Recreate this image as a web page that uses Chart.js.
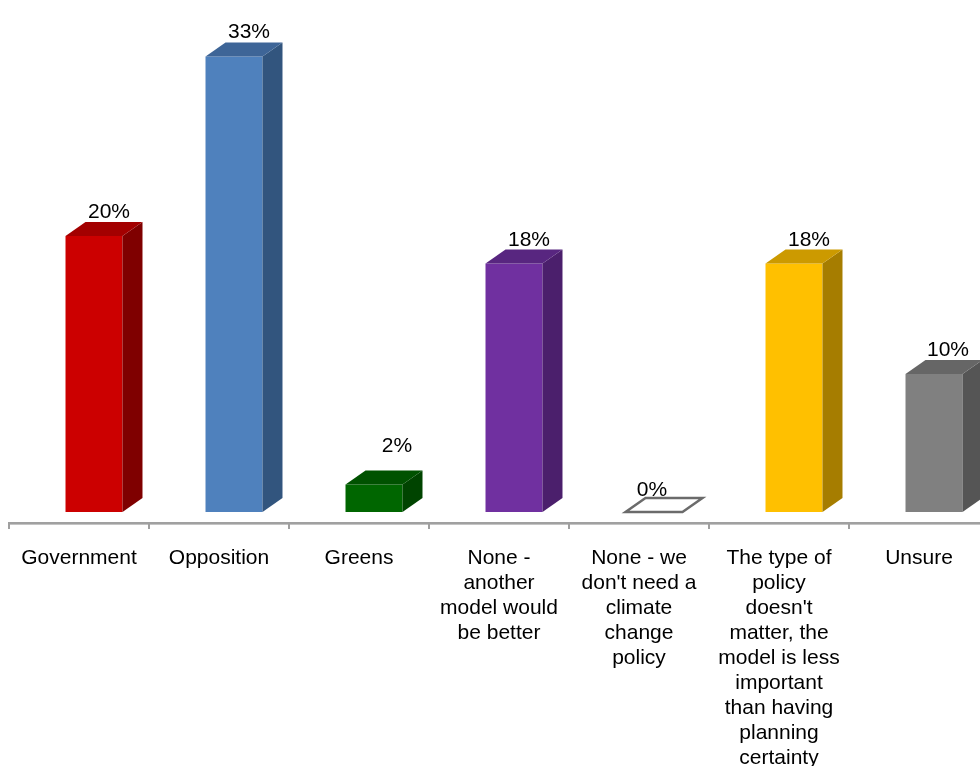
<!DOCTYPE html>
<html>
<head>
<meta charset="utf-8">
<script src="https://cdn.jsdelivr.net/npm/chart.js@4/dist/chart.umd.min.js"></script>
<style>
  html, body { margin: 0; padding: 0; background: #fff; }
  #wrap { width: 980px; height: 766px; overflow: hidden; position: relative; }
  #chart { display: block; }
</style>
</head>
<body>
<div id="wrap"><canvas id="chart" width="1010" height="766" style="width:1010px;height:766px"></canvas></div>
<script>
// 类别（多行标签）
const categories = [
    'Government',
    'Opposition',
    'Greens',
    ['None -', 'another', 'model would', 'be better'],
    ['None - we', "don't need a", 'climate', 'change', 'policy'],
    ['The type of', 'policy', "doesn't", 'matter, the', 'model is less', 'important', 'than having', 'planning', 'certainty'],
    'Unsure'
];
// 百分比数值
const values = [20, 33, 2, 18, 0, 18, 10];

// 颜色：正面 / 顶面 / 侧面
const frontColors = ['#cc0000', '#4f81bd', '#006600', '#7030a0', '#ffffff', '#ffc000', '#808080'];
const topColors   = ['#a30000', '#3e6597', '#005200', '#582680', '#ffffff', '#cc9a00', '#666666'];
const sideColors  = ['#7f0000', '#32557e', '#004400', '#4b1f6c', '#ffffff', '#a67d00', '#555555'];

// 数据标签相对柱正面中心/顶部的微调（Excel 的摆放不完全一致）
const labelDx = [15, 15, 23, 15, -2, 15, 14];
const labelDy = [18, 18, 32, 18, 16, 18, 18];

const FONT = 'Liberation Sans, Arial, sans-serif';
const DEPTH_X = 20, DEPTH_Y = -14;   // 立体深度
const FLOOR_X = -15, FLOOR_Y = 10;   // 地板前沿相对柱底的偏移

// 画地板前沿的坐标轴线和刻度
const floorAxis = {
    id: 'floorAxis',
    beforeDatasetsDraw(chart) {
        const ctx = chart.ctx;
        const xs = chart.scales.x, ys = chart.scales.y;
        const step = xs.width / categories.length;
        const y0 = ys.getPixelForValue(0) + FLOOR_Y;
        ctx.save();
        ctx.fillStyle = '#a0a0a0';
        ctx.fillRect(xs.left + FLOOR_X - 1, y0, xs.width + 2, 2);
        ctx.fillStyle = '#c4c4c4';
        ctx.fillRect(xs.left + FLOOR_X - 1, y0 + 2, xs.width + 2, 1);
        ctx.fillStyle = '#a0a0a0';
        for (let i = 0; i <= categories.length; i++) {
            const tx = Math.round(xs.left + FLOOR_X + i * step);
            ctx.fillRect(tx - 1, y0, 2, 7);
        }
        ctx.restore();
    }
};

// 画立体柱的顶面、侧面和数据标签
const bars3d = {
    id: 'bars3d',
    afterDatasetsDraw(chart) {
        const ctx = chart.ctx;
        const meta = chart.getDatasetMeta(0);
        ctx.save();
        meta.data.forEach((el, i) => {
            const p = el.getProps(['x', 'y', 'base', 'width'], true);
            const l = p.x - p.width / 2, r = p.x + p.width / 2;
            const top = p.y, base = p.base;

            if (values[i] === 0) {
                // 零值：只有一个空心的顶面
                ctx.beginPath();
                ctx.moveTo(l, base);
                ctx.lineTo(l + DEPTH_X, base + DEPTH_Y);
                ctx.lineTo(r + DEPTH_X, base + DEPTH_Y);
                ctx.lineTo(r, base);
                ctx.closePath();
                ctx.fillStyle = '#ffffff';
                ctx.fill();
                ctx.lineWidth = 2.5;
                ctx.strokeStyle = '#6b6b6b';
                ctx.stroke();
            } else {
                // 侧面
                ctx.beginPath();
                ctx.moveTo(r, top);
                ctx.lineTo(r + DEPTH_X, top + DEPTH_Y);
                ctx.lineTo(r + DEPTH_X, base + DEPTH_Y);
                ctx.lineTo(r, base);
                ctx.closePath();
                ctx.fillStyle = sideColors[i];
                ctx.fill();
                // 顶面
                ctx.beginPath();
                ctx.moveTo(l, top);
                ctx.lineTo(l + DEPTH_X, top + DEPTH_Y);
                ctx.lineTo(r + DEPTH_X, top + DEPTH_Y);
                ctx.lineTo(r, top);
                ctx.closePath();
                ctx.fillStyle = topColors[i];
                ctx.fill();
            }

            // 数据标签
            ctx.fillStyle = '#000';
            ctx.font = '21px ' + FONT;
            ctx.textAlign = 'center';
            ctx.textBaseline = 'alphabetic';
            ctx.fillText(values[i] + '%', p.x + labelDx[i], top - labelDy[i]);
        });
        ctx.restore();
    }
};

const ctx = document.getElementById('chart').getContext('2d');
const chart = new Chart(ctx, {
    type: 'bar',
    data: {
        labels: categories,
        datasets: [{
            data: values,
            backgroundColor: frontColors,
            borderWidth: 0,
            categoryPercentage: 1,
            barPercentage: 0.407
        }]
    },
    options: {
        responsive: false,
        animation: false,
        layout: { padding: { left: 24, right: 6, top: 15, bottom: 0 } },
        plugins: {
            legend: { display: false },
            tooltip: { enabled: false }
        },
        scales: {
            x: {
                offset: true,
                grid: { display: false, drawTicks: false, tickLength: 0 },
                border: { display: false },
                ticks: {
                    color: '#000',
                    font: { family: FONT, size: 21, lineHeight: 1.19 },
                    padding: 34,
                    labelOffset: FLOOR_X,
                    autoSkip: false,
                    maxRotation: 0,
                    minRotation: 0
                },
                afterFit(scale) { scale.height = 254; }
            },
            y: {
                display: false,
                min: 0,
                max: 36
            }
        }
    },
    plugins: [floorAxis, bars3d]
});
</script>
</body>
</html>
